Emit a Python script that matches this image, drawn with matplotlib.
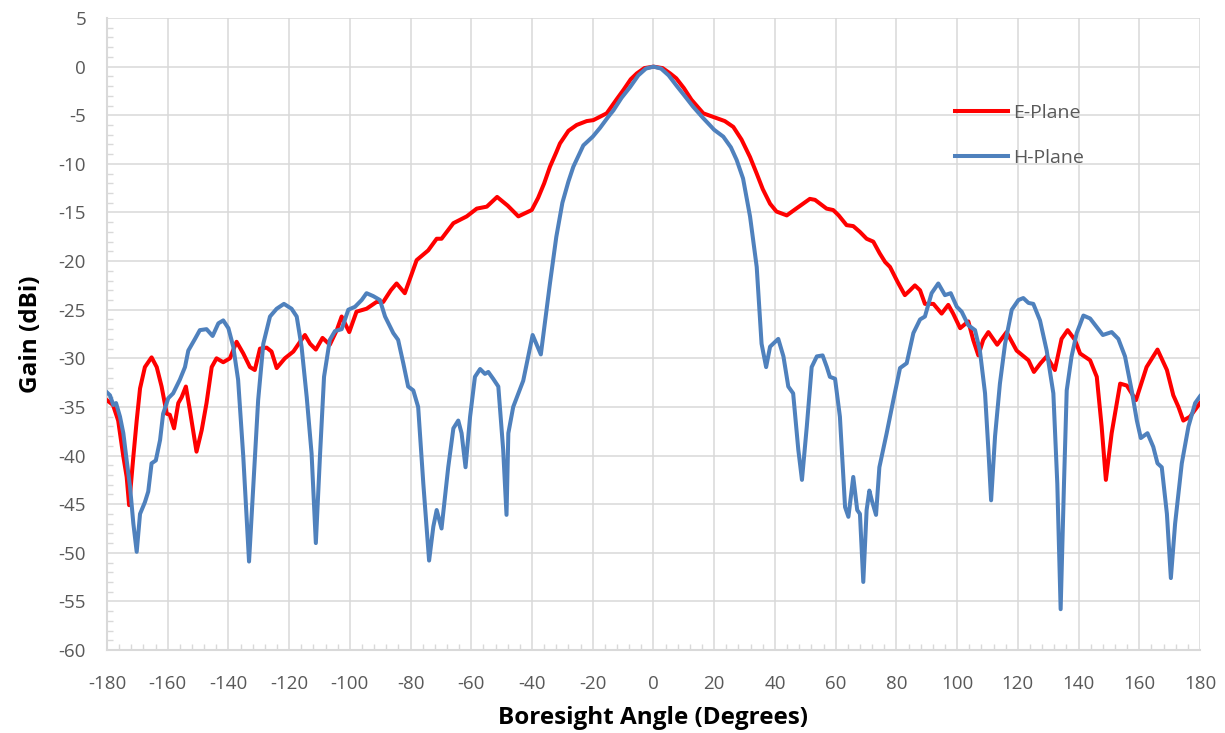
import numpy as np
import matplotlib.pyplot as plt
from matplotlib.ticker import MultipleLocator

# E-Plane pattern (angle in degrees, gain in dBi) ###############
e_angle = [-180, -178, -176.3, -174.6, -173.5, -172.7, -171.3, -170.2, -169.1, -167.5,
           -165.3, -163.6, -162, -160.3, -159.3, -157.9, -156.5, -155.4, -154, -152.7,
           -150.5, -148.8, -147.2, -145.5, -143.9, -141.7, -139.5, -137.3, -135.1, -132.9,
           -131.3, -129.6, -127.4, -125.8, -124.1, -121.4, -118.6, -116.4, -114.8, -113.1,
           -111.2, -109, -106.6, -104.3, -102.7, -100.2, -97.8, -94.5, -91.2, -89,
           -86.5, -84.6, -81.9, -78, -74.2, -71.4, -69.8, -65.9, -61.5, -58.2,
           -54.9, -51.5, -48, -44.5, -40.1, -38, -36, -34.1, -32, -30.8,
           -28, -25.3, -22, -19.8, -15.4, -12, -9.9, -7.5, -5.5, -3, 0,
           3, 5.5, 7.5, 10, 12.5, 16.4, 20.8, 23.5, 26.3, 29,
           31.8, 34, 36, 38.4, 40.5, 43.9, 47, 51.5, 53.2, 57,
           59.2, 61, 63.6, 65.8, 68, 70.2, 72.4, 74.5, 76.3, 77.9,
           80.5, 82.8, 84.5, 86.1, 87.8, 89.4, 92.2, 94.9, 97.1, 98.7,
           101, 103.7, 105.3, 107, 108.6, 110.3, 113.2, 116.3, 119.6, 123.5,
           125.3, 127.5, 129.5, 132.2, 134.4, 136.4, 138.8, 140.5, 143.8, 146,
           147.6, 149, 150.9, 153.7, 155.9, 158.9, 162.4, 166, 169.1, 171.2,
           172.9, 174.5, 176.7, 180]
e_gain = [-34.3, -34.8, -36.4, -40.1, -42.2, -45.1, -40.1, -36.4, -33.1, -30.9,
          -29.9, -30.9, -32.9, -35.7, -35.8, -37.2, -34.6, -34.0, -32.9, -35.3,
          -39.6, -37.4, -34.6, -30.9, -30.0, -30.4, -30.0, -28.3, -29.5, -30.9,
          -31.2, -29.0, -28.9, -29.3, -31.0, -30.0, -29.3, -28.3, -27.6, -28.5,
          -29.1, -27.9, -28.6, -27.1, -25.7, -27.3, -25.2, -24.9, -24.2, -24.2,
          -23.0, -22.3, -23.3, -19.9, -18.9, -17.7, -17.7, -16.1, -15.4, -14.6,
          -14.4, -13.4, -14.3, -15.4, -14.75, -13.5, -12.0, -10.3, -8.8, -7.9,
          -6.6, -6.0, -5.6, -5.5, -4.8, -3.3, -2.4, -1.3, -0.7, -0.15, 0.0,
          -0.15, -0.7, -1.2, -2.2, -3.4, -4.8, -5.3, -5.6, -6.2, -7.5,
          -9.3, -11.0, -12.6, -14.1, -14.9, -15.3, -14.6, -13.6, -13.7, -14.6,
          -14.75, -15.3, -16.3, -16.4, -17.0, -17.7, -18.0, -19.2, -20.1, -20.6,
          -22.2, -23.5, -23.0, -22.5, -23.0, -24.4, -24.4, -25.4, -24.5, -25.4,
          -26.9, -26.2, -28.1, -29.7, -28.1, -27.3, -28.6, -27.3, -29.2, -30.2,
          -31.4, -30.5, -29.8, -31.2, -28.0, -27.1, -28.1, -29.5, -30.2, -31.9,
          -37.0, -42.5, -37.7, -32.6, -32.8, -34.3, -30.9, -29.1, -31.2, -33.8,
          -35.0, -36.4, -36.0, -34.6]

# H-Plane pattern ###############################################
h_angle = [-180, -179, -177.9, -177, -175.7, -174.6, -173.5, -172.4, -171.3, -170.2,
           -169.1, -167.5, -166.4, -165.3, -163.9, -162.5, -161.5, -159.8, -158.2, -156,
           -154.3, -153.2, -151, -149.4, -147.2, -145.2, -143.3, -141.7, -140, -138.4,
           -136.8, -135.1, -133.2, -131.8, -130.2, -128.5, -126.3, -124.1, -121.7, -119.2,
           -117.5, -115.9, -114.2, -112.6, -111.2, -109.8, -108.5, -106.6, -104.9, -102.7,
           -100.5, -98.3, -96.1, -94.5, -92.3, -90.1, -88.4, -85.7, -84.1, -82.4,
           -80.8, -79.1, -77.5, -75.8, -73.9, -72.5, -71.4, -69.8, -67.6, -65.9,
           -64.3, -63.2, -61.9, -60.4, -58.8, -57.1, -55.5, -54.4, -52.8, -51.1,
           -49.5, -48.4, -47.8, -46.2, -42.9, -39.8, -37.1, -34.1, -32, -30,
           -28, -26.4, -23.1, -20, -17.6, -15, -13.2, -10.5, -7.7, -5, -2.5, 0,
           2.5, 5, 7.7, 10, 13, 16.4, 20, 23, 25.5, 27.4,
           29.5, 31.8, 34, 35.6, 37.1, 38.4, 41.1, 42.8, 44.4, 46,
           47.7, 48.9, 50.5, 52.1, 53.8, 55.7, 57.1, 58.1, 59.8, 61.4,
           63.1, 64.2, 65.8, 67.1, 68, 69.1, 70.2, 71.1, 71.9, 73.3,
           74.4, 76.8, 79, 81.2, 83.4, 85.6, 87.8, 89.4, 91.6, 93.8,
           96, 97.9, 99.9, 101.5, 103.7, 105.9, 107.5, 109.2, 110.3, 111.2,
           112.5, 114.1, 115.8, 118, 120.2, 121.8, 123.5, 125.1, 127.3, 129.5,
           131.7, 133, 134.1, 135.2, 136.1, 137.7, 139.4, 141.6, 143.8, 146,
           148, 150.9, 153.1, 155.3, 157.5, 159.2, 160.5, 162.7, 164.6, 166,
           167.4, 169.1, 170.4, 171.8, 174, 176.2, 178.4, 180]
h_gain = [-33.5, -33.8, -34.8, -34.6, -36.0, -37.7, -40.5, -43.2, -47.0, -49.9,
          -46.0, -44.8, -43.7, -40.8, -40.5, -38.4, -35.7, -34.1, -33.6, -32.2,
          -30.9, -29.2, -28.0, -27.1, -27.0, -27.7, -26.4, -26.1, -26.9, -28.8,
          -32.2, -40.1, -50.9, -43.2, -34.3, -28.5, -25.7, -24.9, -24.4, -24.9,
          -25.7, -28.8, -34.0, -39.8, -49.0, -39.8, -31.9, -28.1, -27.2, -27.0,
          -25.0, -24.7, -24.0, -23.3, -23.6, -24.0, -25.7, -27.4, -28.1, -30.5,
          -32.9, -33.3, -35.0, -42.9, -50.8, -47.3, -45.6, -47.5, -41.2, -37.2,
          -36.4, -37.7, -41.2, -36.0, -31.9, -31.1, -31.6, -31.4, -32.1, -32.9,
          -39.4, -46.1, -37.7, -35.0, -32.3, -27.6, -29.6, -22.3, -17.5, -14.0,
          -11.8, -10.3, -8.1, -7.2, -6.3, -5.2, -4.5, -3.2, -2.1, -0.9, -0.2, 0.0,
          -0.2, -0.9, -2.0, -2.9, -4.1, -5.3, -6.5, -7.2, -8.3, -9.6,
          -11.5, -15.4, -20.6, -28.5, -30.9, -28.8, -28.0, -29.8, -32.9, -33.6,
          -39.4, -42.5, -37.0, -30.9, -29.8, -29.7, -30.9, -31.9, -32.1, -36.0,
          -45.3, -46.3, -42.2, -45.6, -46.0, -53.0, -45.6, -43.6, -44.6, -46.1,
          -41.2, -37.7, -34.3, -31.0, -30.5, -27.4, -26.0, -25.7, -23.3, -22.3,
          -23.5, -23.3, -24.7, -25.2, -26.6, -27.1, -29.2, -33.6, -39.4, -44.6,
          -38.0, -32.6, -28.5, -25.0, -24.0, -23.8, -24.3, -24.4, -26.1, -29.2,
          -33.6, -42.9, -55.8, -42.9, -33.3, -29.8, -27.4, -25.6, -25.9, -26.8,
          -27.6, -27.3, -28.0, -29.8, -33.3, -36.4, -38.2, -37.7, -39.1, -40.8,
          -41.2, -46.0, -52.6, -47.0, -40.8, -37.0, -34.6, -33.9]

x_ticks = np.arange(-180, 181, 20)
y_ticks = np.arange(-60, 6, 5)

GRID = "#D9D9D9"
TEXT = "#595959"

plt.rcParams["font.family"] = ["Open Sans", "DejaVu Sans"]
plt.rcParams["axes.unicode_minus"] = False

fig = plt.figure(figsize=(12.25, 7.33), dpi=100)
ax = fig.add_axes([0.0873, 0.1132, 0.8923, 0.8622])

ax.plot(e_angle, e_gain, color="#FF0000", lw=2.9, label="E-Plane",
        solid_joinstyle="round", zorder=3)
ax.plot(h_angle, h_gain, color="#4F81BD", lw=2.9, label="H-Plane",
        solid_joinstyle="round", zorder=4)

ax.set_xlim(-180, 180)
ax.set_ylim(-60, 5)
ax.set_xticks(x_ticks)
ax.set_yticks(y_ticks)
ax.xaxis.set_minor_locator(MultipleLocator(4))
ax.yaxis.set_minor_locator(MultipleLocator(1))
ax.grid(True, which="major", color=GRID, lw=1.1)
ax.set_axisbelow(True)

for side in ["top", "right"]:
    ax.spines[side].set_visible(False)
for side in ["left", "bottom"]:
    ax.spines[side].set_color(GRID)
    ax.spines[side].set_linewidth(1.5)

ax.tick_params(which="major", length=0, labelsize=13.5, labelcolor=TEXT)
ax.tick_params(axis="x", which="major", pad=18)
ax.tick_params(axis="y", which="major", pad=15)
ax.tick_params(which="minor", direction="in", length=4, width=1, color=GRID)

ax.set_xlabel("Boresight Angle (Degrees)", fontsize=17.5, fontweight="bold", labelpad=9)
ax.set_ylabel("Gain (dBi)", fontsize=17.5, fontweight="bold", labelpad=11)

leg = ax.legend(loc="upper left", bbox_to_anchor=(0.776, 0.864), frameon=False,
                fontsize=14, handlelength=2.7, handletextpad=0.3,
                labelspacing=1.4, borderaxespad=0, borderpad=0)
for t in leg.get_texts():
    t.set_color(TEXT)

fig.savefig("out.png", dpi=100)
